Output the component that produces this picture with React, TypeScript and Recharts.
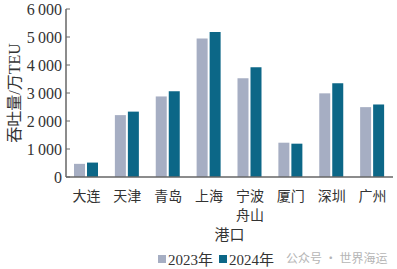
import React from 'react';
import { BarChart, Bar, XAxis, YAxis, Legend } from 'recharts';

const ports = ['大连', '天津', '青岛', '上海', '宁波\n舟山', '厦门', '深圳', '广州'];
const y2023 = [470, 2210, 2877, 4950, 3525, 1225, 2988, 2495];
const y2024 = [515, 2335, 3060, 5175, 3920, 1190, 3345, 2590];
const yTicks = [0, 1000, 2000, 3000, 4000, 5000, 6000];
const seriesNames = ['2023年', '2024年'];
const colors = ['#a6aec3', '#0c6787'];

const data = ports.map((p, i) => ({ port: p, a: y2023[i], b: y2024[i] }));

const fmt = (v: number) => (v >= 1000 ? `${Math.floor(v / 1000)}\u2009${String(v % 1000).padStart(3, '0')}` : String(v));

const serif = '"Liberation Serif", "Noto Sans CJK SC", serif';
const cjk = '"Liberation Serif", "Noto Sans CJK SC", serif';

const PortTick = (props: any) => {
  const { x, y, payload } = props;
  const lines = String(payload.value).split('\n');
  return (
    <g>
      {lines.map((l, i) => (
        <text key={i} x={x} y={y + 6 + i * 19} textAnchor="middle" dominantBaseline="hanging" fontSize={14} fill="#333" fontFamily={cjk}>
          {l}
        </text>
      ))}
    </g>
  );
};

const LegendContent = () => (
  <div style={{ position: 'relative', height: 24, width: 397 }}>
    <div style={{ position: 'absolute', left: 158, top: 3, display: 'flex', alignItems: 'center', fontFamily: cjk, fontSize: 15, color: '#333' }}>
      <span style={{ width: 8, height: 8, background: colors[0], display: 'inline-block', marginRight: 2 }} />
      <span>{seriesNames[0]}</span>
      <span style={{ width: 8, height: 8, background: colors[1], display: 'inline-block', marginLeft: 6, marginRight: 2 }} />
      <span>{seriesNames[1]}</span>
    </div>
    <div style={{ position: 'absolute', left: 286, top: 4, fontFamily: '"Noto Sans CJK SC", sans-serif', fontSize: 12, color: '#b5b5b5' }}>
      公众号 · 世界海运
    </div>
  </div>
);

export default function App() {
  return (
    <div style={{ position: 'absolute', left: 0, top: 0, width: 397, height: 269, background: '#fff' }}>
      <BarChart width={397} height={269} data={data} margin={{ top: 9, right: 4, left: 0, bottom: 0 }} barSize={11} barGap={2}>
        <XAxis
          dataKey="port"
          interval={0}
          height={68}
          tick={<PortTick />}
          tickLine={false}
          axisLine={{ stroke: '#666', strokeWidth: 1.5 }}
          label={{ value: '港口', position: 'insideBottom', offset: 5, fontSize: 15, fill: '#333', fontFamily: cjk }}
        />
        <XAxis xAxisId="top" dataKey="port" orientation="top" height={0} tick={false} tickLine={false} axisLine={{ stroke: '#888', strokeWidth: 1.5 }} />
        <YAxis
          width={66}
          domain={[0, 6000]}
          ticks={yTicks}
          interval={0}
          tickFormatter={fmt}
          tickSize={-4}
          tickMargin={8}
          tickLine={{ stroke: '#666' }}
          axisLine={{ stroke: '#666', strokeWidth: 1.5 }}
          tick={{ fontSize: 16, fill: '#333', fontFamily: serif }}
          label={{ value: '吞吐量/万TEU', angle: -90, position: 'insideLeft', offset: 14, fontSize: 16, fill: '#333', fontFamily: cjk, style: { textAnchor: 'middle' } }}
        />
        <YAxis yAxisId="r" orientation="right" width={0} domain={[0, 6000]} tick={false} tickLine={false} axisLine={{ stroke: '#888', strokeWidth: 1.5 }} />
        <Legend verticalAlign="bottom" align="left" content={<LegendContent />} wrapperStyle={{ left: 0, bottom: 0 }} />
        <Bar dataKey="a" name={seriesNames[0]} fill={colors[0]} isAnimationActive={false} />
        <Bar dataKey="b" name={seriesNames[1]} fill={colors[1]} isAnimationActive={false} />
      </BarChart>
    </div>
  );
}
